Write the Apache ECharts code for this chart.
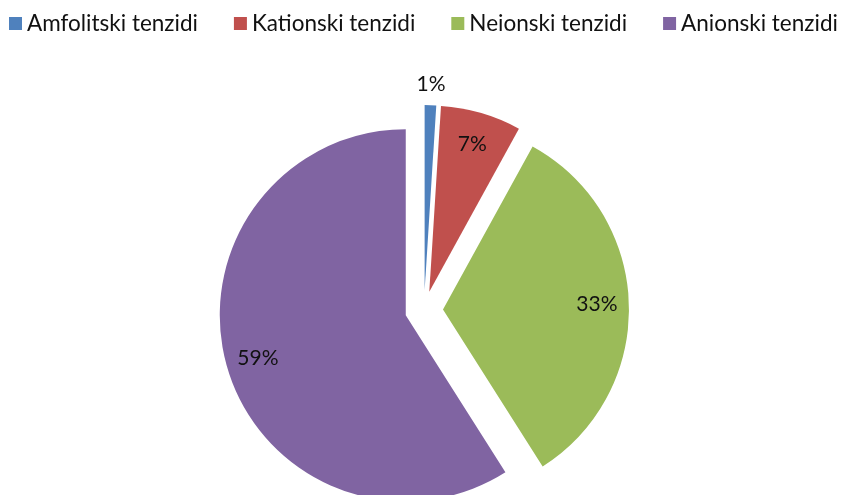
<!DOCTYPE html>
<html lang="hr">
<head>
    <meta charset="UTF-8" />
    <title>Tenzidi</title>
    <script src="https://cdn.jsdelivr.net/npm/echarts@6/dist/echarts.min.js"></script>
    <style>
        html, body { margin: 0; padding: 0; background: #fff; }
    </style>
</head>
<body>
    <div style="width: 851px; height: 495px" id="chart"></div>
    <script>
        // podaci
        const categories = ["Amfolitski tenzidi", "Kationski tenzidi", "Neionski tenzidi", "Anionski tenzidi"];
        const shares = [1, 7, 33, 59]; // %
        const colors = ["#4F81BD", "#C0504D", "#9BBB59", "#8064A2"];

        const myChart = echarts.init(document.getElementById("chart"));

        const center = [424, 310];
        const R = 186;
        const offset = 19;
        const font = "Lato";

        // glavni krug (bez oznaka)
        const mainData = categories.map((name, i) => ({
            name: name,
            value: shares[i],
            selected: true,
            itemStyle: { color: colors[i] },
            select: { itemStyle: { color: colors[i] } },
        }));

        // prozirni prsten za oznake unutar isječka
        const innerLabelData = categories.map((name, i) => ({
            name: name,
            value: shares[i],
            selected: true,
            label: { show: i > 0 },
        }));

        // prozirni prsten za malu oznaku izvan kruga
        const outerLabelData = categories.map((name, i) => ({
            name: name,
            value: shares[i],
            selected: true,
            label: { show: i === 0 },
        }));

        const labelStyle = {
            position: "inside",
            formatter: "{c}%",
            color: "#111",
            fontSize: 21,
            fontFamily: font,
            rotate: 0,
        };

        const transparent = {
            color: "rgba(0,0,0,0)",
            borderWidth: 0,
        };

        option = {
            animation: false,
            legend: {
                data: categories,
                top: 12,
                left: 9,
                width: 842,
                padding: 0,
                itemWidth: 13,
                itemHeight: 13,
                itemGap: 36,
                icon: "rect",
                textStyle: {
                    fontSize: 22.5,
                    fontFamily: font,
                    color: "#111",
                },
            },
            series: [
                {
                    type: "pie",
                    center: center,
                    radius: [0, R],
                    startAngle: 90,
                    clockwise: true,
                    selectedMode: "multiple",
                    selectedOffset: offset,
                    label: { show: false },
                    labelLine: { show: false },
                    emphasis: { disabled: true },
                    data: mainData,
                },
                {
                    type: "pie",
                    silent: true,
                    center: center,
                    radius: [116, R],
                    startAngle: 90,
                    clockwise: true,
                    selectedMode: "multiple",
                    selectedOffset: offset,
                    itemStyle: transparent,
                    select: { itemStyle: transparent },
                    label: labelStyle,
                    labelLine: { show: false },
                    emphasis: { disabled: true },
                    data: innerLabelData,
                },
                {
                    type: "pie",
                    silent: true,
                    center: center,
                    radius: [R, 222],
                    startAngle: 90,
                    clockwise: true,
                    selectedMode: "multiple",
                    selectedOffset: offset,
                    itemStyle: transparent,
                    select: { itemStyle: transparent },
                    label: labelStyle,
                    labelLine: { show: false },
                    emphasis: { disabled: true },
                    data: outerLabelData,
                },
            ],
        };

        myChart.setOption(option);
    </script>
</body>
</html>
